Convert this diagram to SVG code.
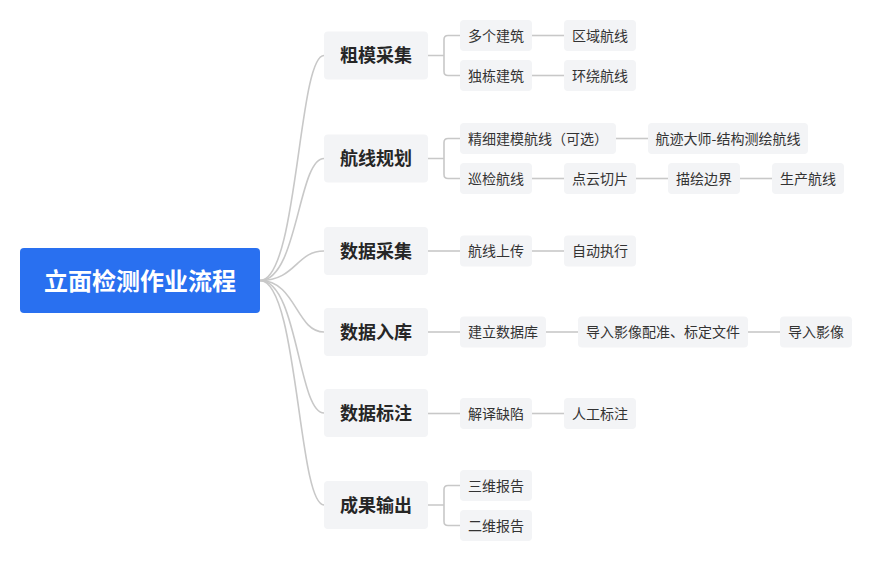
<svg xmlns="http://www.w3.org/2000/svg" width="872" height="561" viewBox="0 0 872 561">
<style>
.c{fill:none;stroke:#c8c8c8;stroke-width:1.6}
.root{fill:#2970f0}
.n1{fill:#f3f4f6}
.n2{fill:#f3f4f6}
.t0{font-family:"Noto Sans CJK SC","Noto Sans",sans-serif;font-size:24px;font-weight:bold;fill:#ffffff;text-anchor:middle}
.t1{font-family:"Noto Sans CJK SC","Noto Sans",sans-serif;font-size:18px;font-weight:bold;fill:#262626;text-anchor:middle}
.t2{font-family:"Noto Sans CJK SC","Noto Sans",sans-serif;font-size:14px;fill:#333333;text-anchor:middle}
</style>
<rect width="872" height="561" fill="#ffffff"/>
<g id="connectors">
<path class="c" d="M260,280.5 C298,280.5 298,55.5 324,55.5"/>
<path class="c" d="M260,280.5 C298,280.5 298,158.5 324,158.5"/>
<path class="c" d="M260,280.5 C296,280.5 296,251 324,251"/>
<path class="c" d="M260,280.5 C296,280.5 296,332 324,332"/>
<path class="c" d="M260,280.5 C298,280.5 298,413 324,413"/>
<path class="c" d="M260,280.5 C298,280.5 298,505 324,505"/>
<path class="c" d="M428,55.5 H444 M460,35.5 H448 Q444,35.5 444,39.5 V71.5 Q444,75.5 448,75.5 H460"/>
<path class="c" d="M428,158.5 H444 M460,138.5 H448 Q444,138.5 444,142.5 V174.5 Q444,178.5 448,178.5 H460"/>
<path class="c" d="M428,251 H460"/>
<path class="c" d="M428,332 H460"/>
<path class="c" d="M428,413.5 H460"/>
<path class="c" d="M428,505 H444 M460,485.5 H448 Q444,485.5 444,489.5 V521.5 Q444,525.5 448,525.5 H460"/>
<path class="c" d="M532,35.5 H564"/>
<path class="c" d="M532,75.5 H564"/>
<path class="c" d="M616,138.5 H648"/>
<path class="c" d="M532,178.5 H564"/>
<path class="c" d="M636,178.5 H668"/>
<path class="c" d="M740,178.5 H772"/>
<path class="c" d="M532,251 H564"/>
<path class="c" d="M546,332 H578"/>
<path class="c" d="M748,332 H780"/>
<path class="c" d="M532,413.5 H564"/>
</g>
<g id="root"><rect class="root" x="20" y="248" width="240" height="65" rx="4"/><text class="t0" x="140" y="289.6">立面检测作业流程</text></g>
<g id="n-cumo"><rect class="n1" x="324" y="31.5" width="104" height="48" rx="4"/><text class="t1" x="376" y="62.3">粗模采集</text></g>
<g id="n-hangxian"><rect class="n1" x="324" y="134.5" width="104" height="48" rx="4"/><text class="t1" x="376" y="165.3">航线规划</text></g>
<g id="n-caiji"><rect class="n1" x="324" y="227" width="104" height="48" rx="4"/><text class="t1" x="376" y="257.8">数据采集</text></g>
<g id="n-ruku"><rect class="n1" x="324" y="308" width="104" height="48" rx="4"/><text class="t1" x="376" y="338.8">数据入库</text></g>
<g id="n-biaozhu"><rect class="n1" x="324" y="389" width="104" height="48" rx="4"/><text class="t1" x="376" y="419.8">数据标注</text></g>
<g id="n-shuchu"><rect class="n1" x="324" y="481" width="104" height="48" rx="4"/><text class="t1" x="376" y="511.8">成果输出</text></g>
<g id="n-duoge"><rect class="n2" x="460" y="20" width="72" height="31" rx="4"/><text class="t2" x="496" y="40.8">多个建筑</text></g>
<g id="n-quyu"><rect class="n2" x="564" y="20" width="72" height="31" rx="4"/><text class="t2" x="600" y="40.8">区域航线</text></g>
<g id="n-dudong"><rect class="n2" x="460" y="60" width="72" height="31" rx="4"/><text class="t2" x="496" y="80.8">独栋建筑</text></g>
<g id="n-huanrao"><rect class="n2" x="564" y="60" width="72" height="31" rx="4"/><text class="t2" x="600" y="80.8">环绕航线</text></g>
<g id="n-jingxi"><rect class="n2" x="460" y="123" width="156" height="31" rx="4"/><text class="t2" x="538" y="143.8">精细建模航线（可选）</text></g>
<g id="n-hangji"><rect class="n2" x="648" y="123" width="160" height="31" rx="4"/><text class="t2" x="728" y="143.8">航迹大师-结构测绘航线</text></g>
<g id="n-xunjian"><rect class="n2" x="460" y="163" width="72" height="31" rx="4"/><text class="t2" x="496" y="183.8">巡检航线</text></g>
<g id="n-dianyun"><rect class="n2" x="564" y="163" width="72" height="31" rx="4"/><text class="t2" x="600" y="183.8">点云切片</text></g>
<g id="n-miaohui"><rect class="n2" x="668" y="163" width="72" height="31" rx="4"/><text class="t2" x="704" y="183.8">描绘边界</text></g>
<g id="n-shengchan"><rect class="n2" x="772" y="163" width="72" height="31" rx="4"/><text class="t2" x="808" y="183.8">生产航线</text></g>
<g id="n-shangchuan"><rect class="n2" x="460" y="235.5" width="72" height="31" rx="4"/><text class="t2" x="496" y="256.3">航线上传</text></g>
<g id="n-zidong"><rect class="n2" x="564" y="235.5" width="72" height="31" rx="4"/><text class="t2" x="600" y="256.3">自动执行</text></g>
<g id="n-jianli"><rect class="n2" x="460" y="316.5" width="86" height="31" rx="4"/><text class="t2" x="503" y="337.3">建立数据库</text></g>
<g id="n-peizhun"><rect class="n2" x="578" y="316.5" width="170" height="31" rx="4"/><text class="t2" x="663" y="337.3">导入影像配准、标定文件</text></g>
<g id="n-daoru"><rect class="n2" x="780" y="316.5" width="72" height="31" rx="4"/><text class="t2" x="816" y="337.3">导入影像</text></g>
<g id="n-jieyi"><rect class="n2" x="460" y="398" width="72" height="31" rx="4"/><text class="t2" x="496" y="418.8">解译缺陷</text></g>
<g id="n-rengong"><rect class="n2" x="564" y="398" width="72" height="31" rx="4"/><text class="t2" x="600" y="418.8">人工标注</text></g>
<g id="n-sanwei"><rect class="n2" x="460" y="470" width="72" height="31" rx="4"/><text class="t2" x="496" y="490.8">三维报告</text></g>
<g id="n-erwei"><rect class="n2" x="460" y="510" width="72" height="31" rx="4"/><text class="t2" x="496" y="530.8">二维报告</text></g>
</svg>
